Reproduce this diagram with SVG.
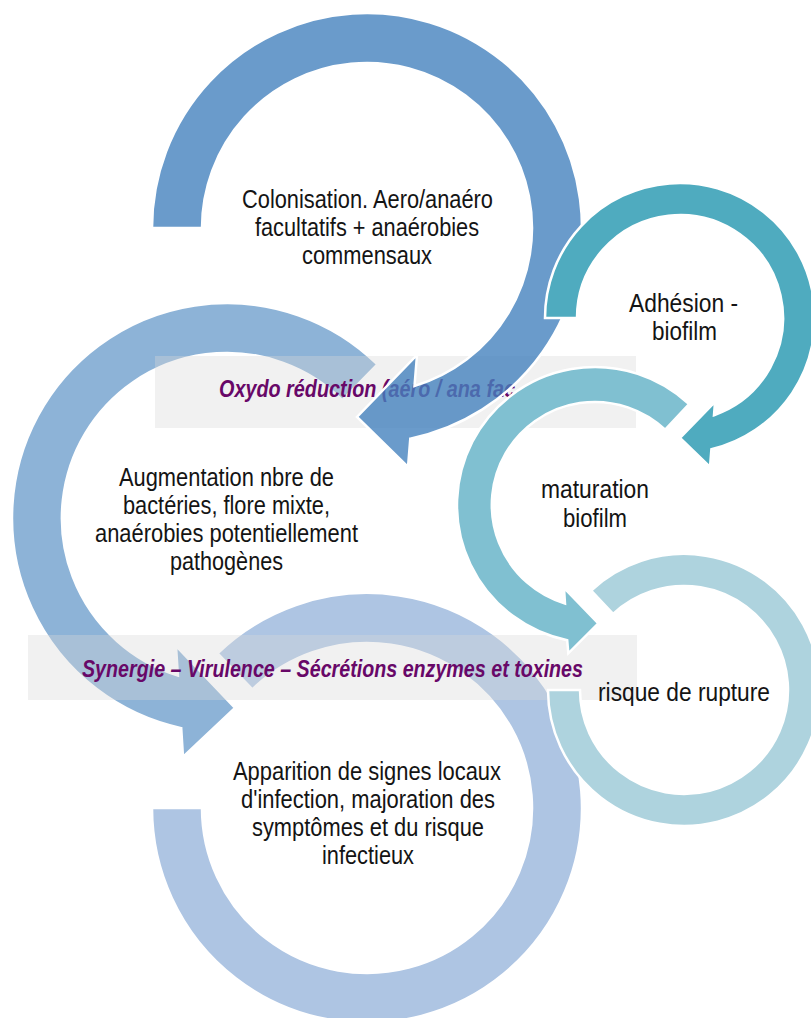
<svg xmlns="http://www.w3.org/2000/svg" width="811" height="1018" viewBox="0 0 811 1018">
<style>
.ring{stroke:#ffffff;stroke-width:2.5;stroke-linejoin:miter}
.lbl{font-family:"Liberation Sans",Arial,sans-serif;font-size:25px;fill:#141414}
.band{fill:#d9d9d9;fill-opacity:0.36}
.note{font-family:"Liberation Sans",Arial,sans-serif;font-size:23px;font-weight:bold;font-style:italic;fill:#680868}
</style>
<rect width="811" height="1018" fill="#ffffff"/>
<g id="connectors"></g>
<g id="node-augmentation">
<path class="ring" fill="#8DB3D7" d="M 377.4 364.4 A 215 215 0 1 0 181.2 728.1 L 183 757 L 235 708 L 176 646 L 177.9 675.5 A 165 165 0 1 1 342.4 400.1 Z"/>
<text class="lbl" x="119" y="486" textLength="215" lengthAdjust="spacingAndGlyphs">Augmentation nbre de</text>
<text class="lbl" x="123" y="514" textLength="207" lengthAdjust="spacingAndGlyphs">bactéries, flore mixte,</text>
<text class="lbl" x="95" y="542" textLength="263" lengthAdjust="spacingAndGlyphs">anaérobies potentiellement</text>
<text class="lbl" x="170" y="570" textLength="113" lengthAdjust="spacingAndGlyphs">pathogènes</text>
</g>
<g id="node-apparition">
<path class="ring" fill="#AEC5E3" d="M 217.6 653.3 A 215 215 0 1 1 152 808 L 202 808 A 165 165 0 1 0 252.4 689.3 Z"/>
<text class="lbl" x="233" y="780" textLength="268" lengthAdjust="spacingAndGlyphs">Apparition de signes locaux</text>
<text class="lbl" x="241" y="808" textLength="254" lengthAdjust="spacingAndGlyphs">d'infection, majoration des</text>
<text class="lbl" x="252" y="836" textLength="232" lengthAdjust="spacingAndGlyphs">symptômes et du risque</text>
<text class="lbl" x="322" y="864" textLength="92" lengthAdjust="spacingAndGlyphs">infectieux</text>
</g>
<g id="band-synergie">
<rect class="band" x="28" y="635" width="609" height="65"/>
<text class="note" x="82" y="677" textLength="501" lengthAdjust="spacingAndGlyphs">Synergie – Virulence – Sécrétions enzymes et toxines</text>
</g>
<g id="band-oxydo">
<rect class="band" x="155" y="356" width="481" height="72"/>
<text class="note" x="219" y="397" textLength="296" lengthAdjust="spacingAndGlyphs">Oxydo réduction (aéro / ana fac</text>
</g>
<g id="node-colonisation">
<path class="ring" fill="#4582BE" fill-opacity="0.8" d="M 152 228 A 215 215 0 1 1 410.3 438.6 L 408 467 L 357 417 L 417 355 L 414.5 386 A 165 165 0 1 0 202 228 Z"/>
<text class="lbl" x="242" y="208" textLength="251" lengthAdjust="spacingAndGlyphs">Colonisation. Aero/anaéro</text>
<text class="lbl" x="255" y="236" textLength="224" lengthAdjust="spacingAndGlyphs">facultatifs + anaérobies</text>
<text class="lbl" x="302" y="264" textLength="130" lengthAdjust="spacingAndGlyphs">commensaux</text>
</g>
<g id="node-adhesion">
<path class="ring" fill="#4FABBF" d="M 545 318 A 135 135 0 1 1 711.4 449.3 L 710 467 L 680 438 L 715 402 L 714 415.2 A 103 103 0 1 0 577 318 Z"/>
<text class="lbl" x="629" y="312" textLength="109" lengthAdjust="spacingAndGlyphs">Adhésion -</text>
<text class="lbl" x="652" y="340" textLength="65" lengthAdjust="spacingAndGlyphs">biofilm</text>
</g>
<g id="node-maturation">
<path class="ring" fill="#80C0D1" d="M 689.1 404.1 A 138 138 0 1 0 567.2 640.2 L 568.3 653.3 L 598.3 623.3 L 564 588 L 565 603.5 A 103 103 0 1 1 665.2 429.7 Z"/>
<text class="lbl" x="541" y="498" textLength="108" lengthAdjust="spacingAndGlyphs">maturation</text>
<text class="lbl" x="563" y="527" textLength="64" lengthAdjust="spacingAndGlyphs">biofilm</text>
</g>
<g id="node-rupture">
<path class="ring" fill="#AED3DE" d="M 591.2 590.5 A 136 136 0 1 1 548 690 L 580 690 A 104 104 0 1 0 613.1 613.9 Z"/>
<text class="lbl" x="598" y="701" textLength="172" lengthAdjust="spacingAndGlyphs">risque de rupture</text>
</g>
</svg>
